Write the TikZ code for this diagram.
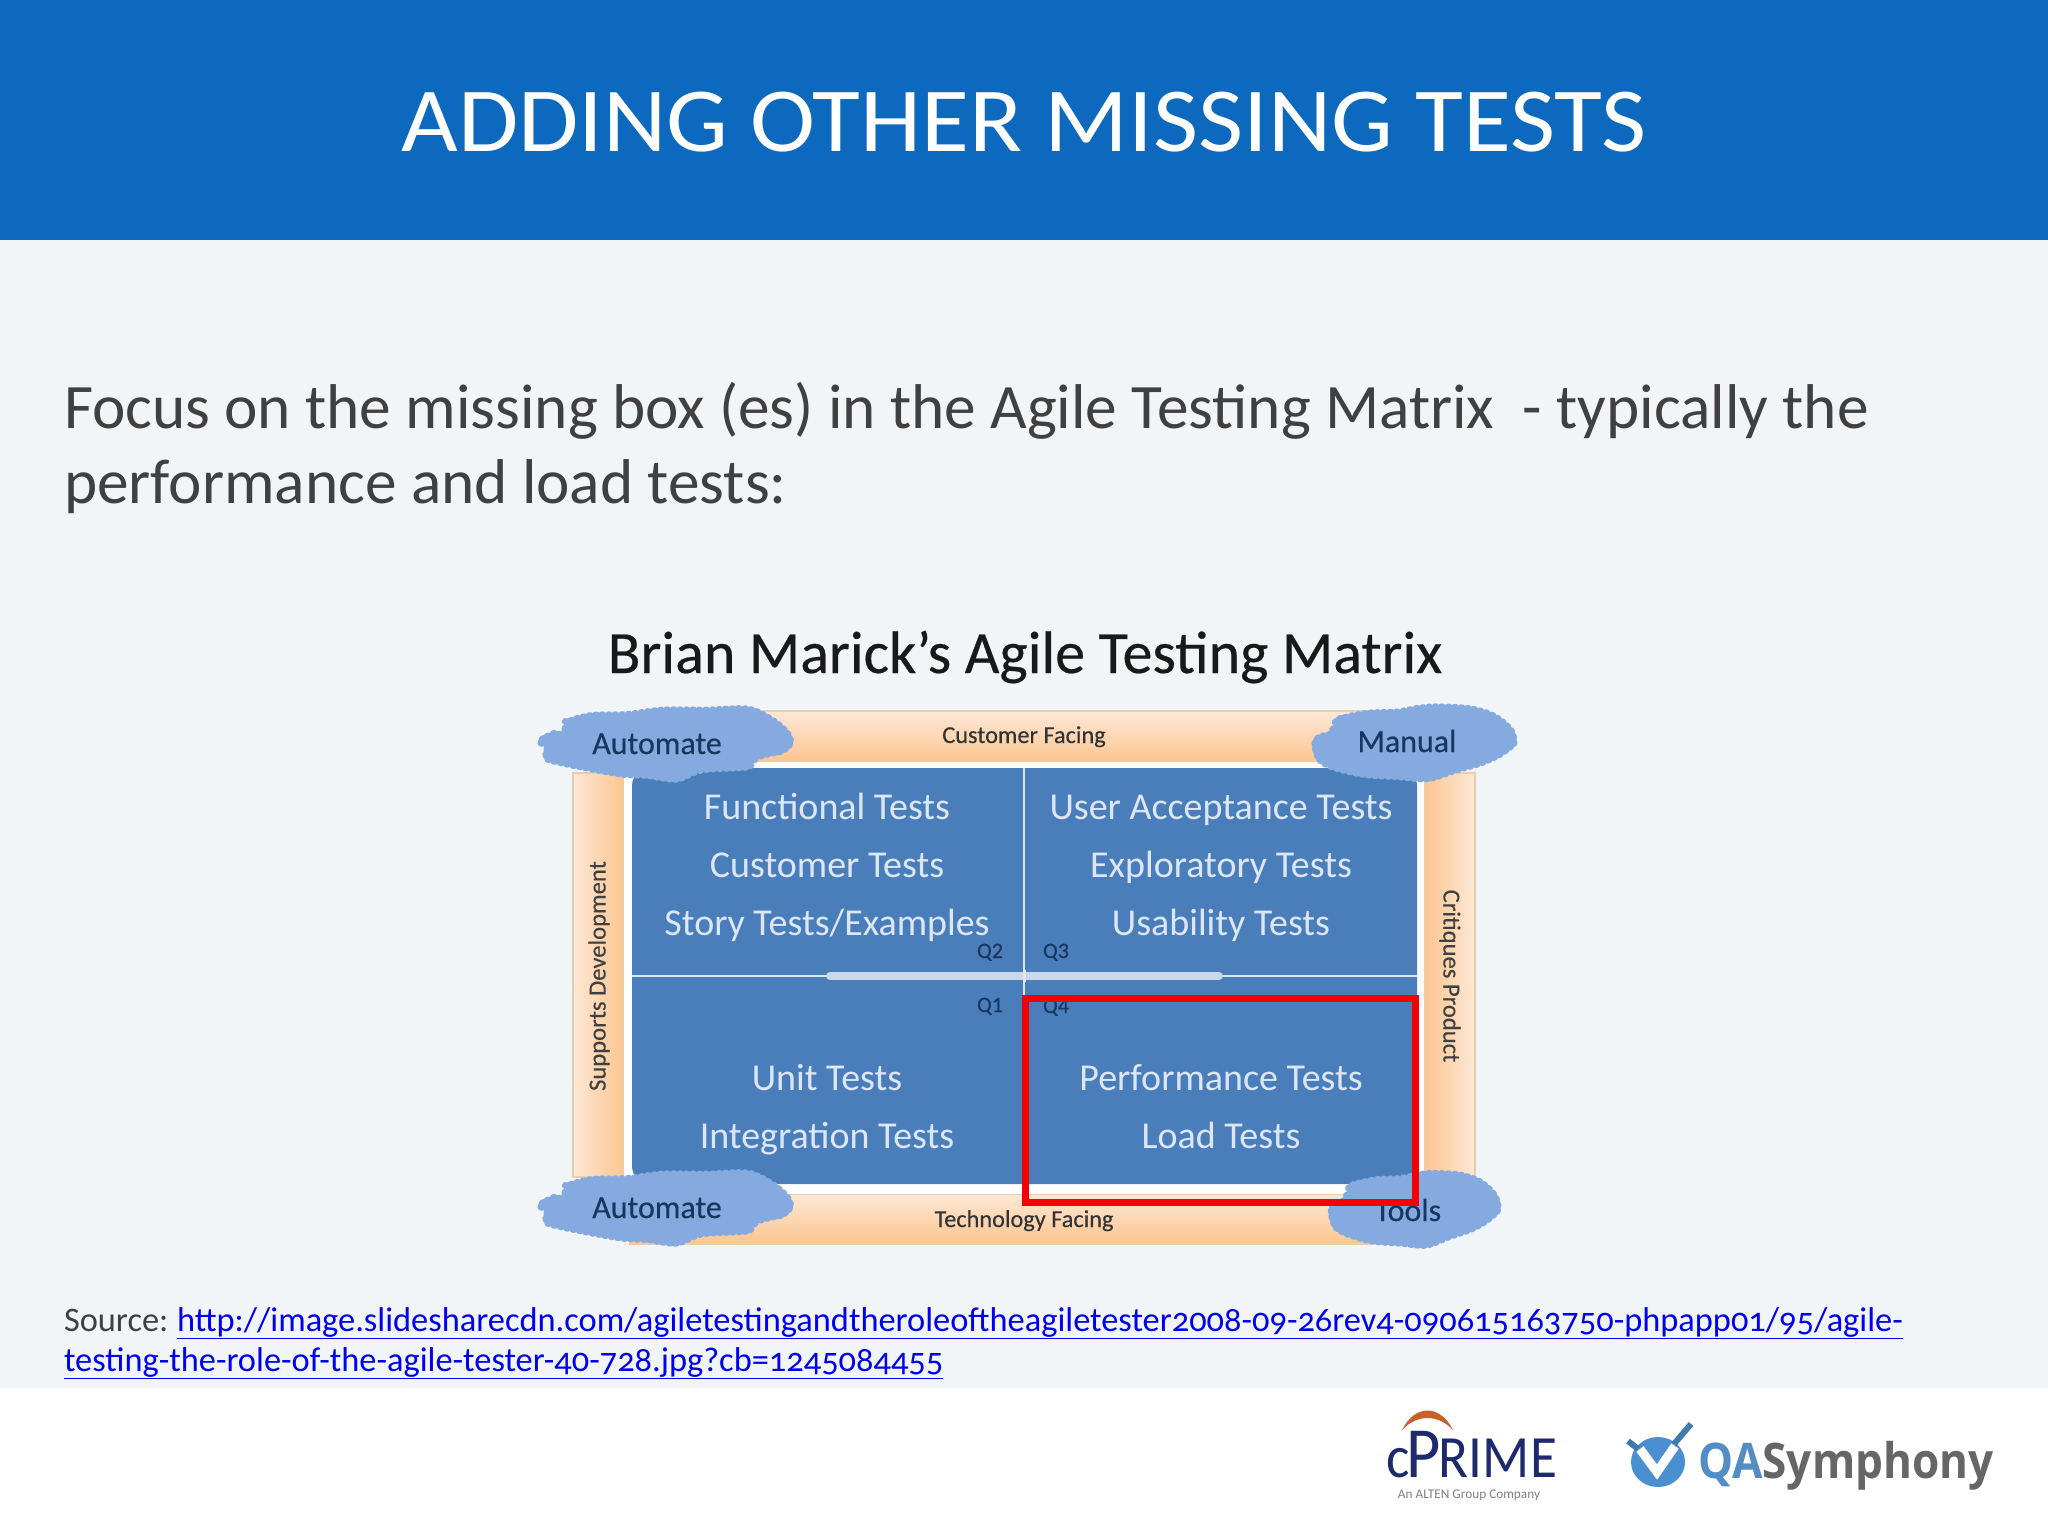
\documentclass[tikz,border=0pt]{standalone}
\usepackage{fontspec}
\setmainfont{Carlito}
\newfontfamily\bodyfont[Numbers=OldStyle]{Carlito}
\newfontfamily\headfont[Numbers=OldStyle,FakeStretch=1.07]{Carlito}
\newfontfamily\heavyfont[FakeBold=0.35]{Carlito}
\newfontfamily\logosans{Open Sans}
\usetikzlibrary{decorations.pathmorphing}
\definecolor{headblue}{HTML}{0D69BD}
\definecolor{pagebg}{HTML}{F2F5F8}
\definecolor{bodygrey}{HTML}{404040}
\definecolor{matblue}{HTML}{4A7EBB}
\definecolor{paletxt}{HTML}{DCE6F6}
\definecolor{cloudblue}{HTML}{84AADF}
\definecolor{darktxt}{HTML}{17375E}
\definecolor{orangehi}{HTML}{FDE8D6}
\definecolor{orangelo}{HTML}{FCC58F}
\definecolor{bandedge}{HTML}{E8CDB0}
\definecolor{linkblue}{HTML}{0000EE}
\definecolor{primenavy}{HTML}{1E2A6E}
\definecolor{primeorange}{HTML}{C8602C}
\definecolor{qablue}{HTML}{4A90D0}
\definecolor{qagrey}{HTML}{666666}
\definecolor{redbox}{HTML}{F40000}
\tikzset{
  lab/.style={inner sep=0pt,outer sep=0pt,align=center},
  celltxt/.style={lab,anchor=base,text=paletxt,font=\fontsize{38}{38}\selectfont},
  qtxt/.style={lab,anchor=base,text=darktxt,font=\heavyfont\fontsize{22}{22}\selectfont},
  cloudtxt/.style={lab,anchor=base,text=darktxt,font=\heavyfont\fontsize{32}{32}\selectfont},
  bandtxt/.style={lab,anchor=base,text=black!80,font=\heavyfont\fontsize{24.3}{24.3}\selectfont},
  sidetxt/.style={lab,text=black!75,font=\heavyfont\fontsize{24.6}{24.6}\selectfont},
  puff/.style={fill=cloudblue,decorate,decoration={bumps,segment length=13pt,amplitude=1.8pt}},
  bandl/.style={draw=bandedge,line width=1.5pt,left color=orangehi,right color=orangelo},
  bandr/.style={draw=bandedge,line width=1.5pt,left color=orangelo,right color=orangehi},
  bandt/.style={draw=bandedge,line width=1.5pt,top color=orangehi,bottom color=orangelo},
  srctxt/.style={lab,anchor=base west,font=\bodyfont\fontsize{34.4}{34.4}\selectfont},
}
\newcommand{\wideblob}{\fill[puff] plot[smooth cycle,tension=0.55] coordinates {(28,155) (60,130) (95,125) (105,95) (180,72) (290,68) (400,55) (530,55) (650,52) (720,80) (770,120) (785,155) (760,185) (690,205) (650,235) (520,245) (440,272) (350,262) (280,258) (200,245) (100,225) (50,210) (45,180)};}
\newcommand{\roundblob}{\fill[puff] plot[smooth cycle,tension=0.55] coordinates {(90,235) (130,200) (150,165) (220,145) (300,140) (350,130) (400,125) (480,130) (540,150) (585,190) (598,235) (570,270) (520,300) (450,325) (380,350) (300,345) (200,335) (110,300)};}
\begin{document}
\begin{tikzpicture}[x=1pt,y=-1pt]
\useasboundingbox (0,0) rectangle (2048,1536);
% page
\fill[white] (0,0) rectangle (2048,1536);
\fill[pagebg] (0,240) rectangle (2048,1388);
\fill[headblue] (0,0) rectangle (2048,240);
\node[lab,text=white] (title) at (1024,122) {\fontsize{91.6}{91.6}\selectfont\headfont ADDING OTHER MISSING TESTS};
\node[lab,anchor=base west,text=bodygrey] (line1) at (64,428) {\fontsize{63.3}{63.3}\selectfont\bodyfont Focus on the missing box (es) in the Agile Testing Matrix\ \ - typically the};
\node[lab,anchor=base west,text=bodygrey] (line2) at (64,503) {\fontsize{63.3}{63.3}\selectfont\bodyfont performance and load tests:};
% matrix heading
\node[lab,text=black!90] (mtitle) at (1025,657) {\heavyfont\fontsize{60}{60}\selectfont Brian Marick’s Agile Testing Matrix};
% orange frame
\path[bandt] (640,711) rectangle (1400,762);
\path[bandl] (573,773) rectangle (624,1177);
\path[bandr] (1424,773) rectangle (1475,1177);
\path[bandt] (630,1194) rectangle (1420,1244);
\fill[white] (624,762) rectangle (1424,1194);
% blue matrix
\fill[matblue,rounded corners=18pt] (632,768) rectangle (1417,1184);
\draw[paletxt,line width=2.5pt] (1024,768) -- (1024,1184);
\draw[paletxt,line width=2.5pt] (632,976) -- (1417,976);
\draw[white!70!matblue,line width=8pt,line cap=round] (830,976) -- (1219,976);
\draw[paletxt,line width=3pt] (1024,970) -- (1024,982);
% clouds
\begin{scope}[shift={(530,690)},x=0.3333pt,y=-0.3333pt]\wideblob\end{scope}
\begin{scope}[shift={(530,1154)},x=0.3333pt,y=-0.3333pt]\wideblob\end{scope}
\begin{scope}[shift={(1278,663.5)},x=0.3967pt,y=-0.3333pt]\roundblob\end{scope}
\begin{scope}[shift={(1300,1130)},x=0.3333pt,y=-0.3333pt]\roundblob\end{scope}
% labels
\node[cloudtxt] (a1) at (657,754) {Automate};
\node[cloudtxt] (man) at (1407,752) {Manual};
\node[cloudtxt] (a2) at (657,1218) {Automate};
\node[cloudtxt] (tools) at (1408,1221) {Tools};
\node[bandtxt] (cf) at (1024,743) {Customer Facing};
\node[bandtxt] (tf) at (1024,1227) {Technology Facing};
\node[sidetxt,rotate=90] (sd) at (599,976) {Supports Development};
\node[sidetxt,rotate=-90] (cp) at (1450,976) {Critiques Product};
\node[celltxt] (f1) at (827,819) {Functional Tests};
\node[celltxt] (f2) at (827,877) {Customer Tests};
\node[celltxt] (f3) at (827,935) {Story Tests/Examples};
\node[celltxt] (u1) at (1221,819) {User Acceptance Tests};
\node[celltxt] (u2) at (1221,877) {Exploratory Tests};
\node[celltxt] (u3) at (1221,935) {Usability Tests};
\node[celltxt] (b1) at (827,1090) {Unit Tests};
\node[celltxt] (b2) at (827,1148) {Integration Tests};
\node[celltxt] (p1) at (1221,1090) {Performance Tests};
\node[celltxt] (p2) at (1221,1148) {Load Tests};
\node[qtxt] (q2) at (990,958) {Q2};
\node[qtxt] (q3) at (1056,958) {Q3};
\node[qtxt] (q1) at (990,1012) {Q1};
\node[qtxt] (q4) at (1056,1013) {Q4};
% red highlight
\draw[redbox,line width=7pt] (1025,998.5) rectangle (1415,1202);
% source
\node[srctxt,text=bodygrey] (src) at (64,1331) {Source:};
\node[srctxt,text=linkblue] (url1) at (177,1331) {\underline{http://image.slidesharecdn.com/agiletestingandtheroleoftheagiletester2008-09-26rev4-090615163750-phpapp01/95/agile-}};
\node[srctxt,text=linkblue] (url2) at (64,1371) {\underline{testing-the-role-of-the-agile-tester-40-728.jpg?cb=1245084455}};
% cPrime logo
\fill[primeorange] (1402,1430) .. controls (1415,1404) and (1440,1404) .. (1453,1430) .. controls (1438,1414) and (1417,1414) .. cycle;
\node[lab,anchor=base west,text=primenavy] (cprime) at (1386,1477) {\smash{\scalebox{0.92}[1]{\fontsize{60}{60}\selectfont c\kern-3pt{\fontsize{72}{72}\selectfont P}\kern-2pt RIME}}};
\node[lab,text=gray] (alten) at (1469,1495) {\fontsize{13.3}{13.3}\selectfont An ALTEN Group Company};
% QASymphony logo
\fill[qablue] (1658,1462) circle[x radius=27pt,y radius=25pt];
\draw[white,line width=9pt,line join=miter] (1640,1449) -- (1657,1472) -- (1675,1446);
\draw[qablue!85!black,line width=6pt] (1628,1441) -- (1638,1449);
\draw[qablue!85!black,line width=6pt] (1674,1444) -- (1691,1424);
\node[lab,anchor=base west] (qa) at (1698,1478) {\scalebox{0.9}[1]{\fontsize{49}{49}\selectfont\logosans\bfseries{\color{qablue!85!gray}QA}{\color{qagrey}Symphony}}};
\end{tikzpicture}
\end{document}
